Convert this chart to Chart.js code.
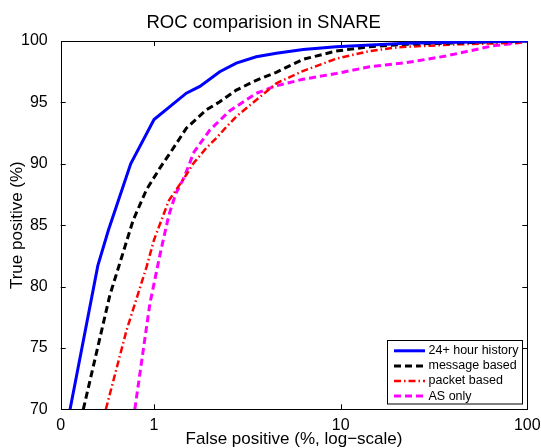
<!DOCTYPE html>
<html lang="en">
<head>
  <meta charset="UTF-8">
  <title>ROC comparision in SNARE</title>
  <script src="https://cdn.jsdelivr.net/npm/chart.js"></script>
  <style>
    body { margin: 0; background: #fff; }
  </style>
</head>
<body>
  <canvas id="rocChart" width="541" height="448"></canvas>
  <script>
    // values (false positive %, true positive %)
    const historyFp = [0.355, 0.5, 0.57, 0.75, 1.0, 1.49, 1.76, 2.25, 2.76, 3.53, 4.52, 6.3, 9.46, 22.4, 50, 100];
    const historyTp = [70, 81.7, 84.6, 90, 93.6, 95.75, 96.3, 97.5, 98.2, 98.72, 99.0, 99.3, 99.54, 99.81, 99.92, 100];

    const messageFp = [0.418, 0.58, 0.773, 0.912, 1.07, 1.26, 1.49, 1.91, 2.25, 2.76, 3.53, 4.52, 6.27, 9.46, 14.3, 22.4, 50, 100];
    const messageTp = [70, 79.3, 85.4, 87.9, 89.6, 91.2, 92.9, 94.4, 95.05, 96.0, 96.8, 97.45, 98.5, 99.18, 99.54, 99.73, 99.88, 100];

    const packetFp = [0.552, 0.713, 0.912, 1.0, 1.2, 1.49, 1.62, 1.91, 2.16, 2.44, 2.76, 3.53, 4.52, 6.27, 9.46, 14.3, 20.6, 43.2, 90, 100];
    const packetTp = [70, 76.45, 81.6, 83.8, 87.0, 89.1, 90.0, 91.3, 92.1, 93.0, 93.85, 95.2, 96.55, 97.55, 98.56, 99.18, 99.5, 99.73, 99.86, 100];

    const asFp = [0.789, 0.95, 1.08, 1.2, 1.31, 1.43, 1.55, 1.62, 1.99, 2.54, 3.53, 4.52, 6.27, 9.46, 14.3, 22.4, 36.7, 65, 90, 100];
    const asTp = [70, 78.6, 82.7, 85.8, 87.6, 88.7, 90.0, 90.85, 92.75, 94.3, 95.74, 96.35, 96.88, 97.35, 97.9, 98.23, 98.78, 99.6, 99.86, 100];

    const seriesNames = ['24+ hour history', 'message based', 'packet based', 'AS only'];

    // left edge of the log axis sits half a decade below 1 and is labelled "0"
    const xTickValues = [Math.pow(10, -0.5), 1, 10, 100];
    const xTickLabels = ['0', '1', '10', '100'];
    const yTickValues = [70, 75, 80, 85, 90, 95, 100];

    const toPoints = (xs, ys) => xs.map((x, i) => ({ x: x, y: ys[i] }));

    const data = {
      datasets: [
        {
          label: seriesNames[0],
          data: toPoints(historyFp, historyTp),
          borderColor: '#0000ff',
          borderWidth: 3,
          borderDash: [],
        },
        {
          label: seriesNames[1],
          data: toPoints(messageFp, messageTp),
          borderColor: '#000000',
          borderWidth: 3,
          borderDash: [7, 4],
        },
        {
          label: seriesNames[2],
          data: toPoints(packetFp, packetTp),
          borderColor: '#ff0000',
          borderWidth: 2.5,
          borderDash: [7, 3, 1.5, 3],
        },
        {
          label: seriesNames[3],
          data: toPoints(asFp, asTp),
          borderColor: '#ff00ff',
          borderWidth: 3,
          borderDash: [7, 4],
        },
      ],
    };

    // axes box with inward ticks on all four sides (matlab look)
    const boxPlugin = {
      id: 'boxPlugin',
      beforeDatasetsDraw(chart) {
        const { ctx, chartArea, scales } = chart;
        const { left, right, top, bottom } = chartArea;
        const tick = 5;
        ctx.save();
        ctx.strokeStyle = '#000';
        ctx.lineWidth = 1;
        ctx.beginPath();
        xTickValues.slice(1, -1).forEach(v => {
          const px = Math.round(scales.x.getPixelForValue(v)) + 0.5;
          ctx.moveTo(px, bottom); ctx.lineTo(px, bottom - tick);
          ctx.moveTo(px, top); ctx.lineTo(px, top + tick);
        });
        yTickValues.slice(1, -1).forEach(v => {
          const py = Math.round(scales.y.getPixelForValue(v)) + 0.5;
          ctx.moveTo(left, py); ctx.lineTo(left + tick, py);
          ctx.moveTo(right, py); ctx.lineTo(right - tick, py);
        });
        ctx.stroke();
        ctx.strokeRect(Math.round(left) + 0.5, Math.round(top) + 0.5,
          Math.round(right) - Math.round(left), Math.round(bottom) - Math.round(top));
        ctx.restore();
      },
    };

    // legend box in the lower right corner
    const legendPlugin = {
      id: 'legendPlugin',
      afterDraw(chart) {
        const { ctx } = chart;
        const boxL = 387.5, boxT = 340.5, boxW = 135, boxH = 63.5;
        ctx.save();
        ctx.fillStyle = '#fff';
        ctx.fillRect(boxL, boxT, boxW, boxH);
        ctx.strokeStyle = '#000';
        ctx.lineWidth = 1;
        ctx.strokeRect(boxL, boxT, boxW, boxH);
        ctx.font = '12.5px "Liberation Sans", Arial, sans-serif';
        ctx.textBaseline = 'middle';
        ctx.textAlign = 'left';
        chart.data.datasets.forEach((ds, i) => {
          const y = 350.8 + i * 15.1;
          ctx.beginPath();
          ctx.strokeStyle = ds.borderColor;
          ctx.lineWidth = ds.borderWidth;
          ctx.setLineDash(ds.borderDash);
          ctx.moveTo(394, y);
          ctx.lineTo(425, y);
          ctx.stroke();
          ctx.setLineDash([]);
          ctx.fillStyle = '#000';
          ctx.fillText(ds.label, 428.5, y);
        });
        ctx.restore();
      },
    };

    const font = { family: '"Liberation Sans", Arial, sans-serif' };

    const options = {
      responsive: false,
      animation: false,
      devicePixelRatio: 1,
      layout: { padding: { left: 0, right: 13.7, top: 0, bottom: 0 } },
      elements: {
        point: { radius: 0, hoverRadius: 0 },
        line: { tension: 0, borderCapStyle: 'butt', fill: false },
      },
      scales: {
        x: {
          type: 'logarithmic',
          bounds: 'data',
          min: xTickValues[0],
          max: 100,
          grid: { display: false },
          border: { display: false },
          afterBuildTicks: (scale) => {
            scale.ticks = xTickValues.map(v => ({ value: v }));
          },
          afterFit: (scale) => {
            scale.height = 38.7;
            scale.paddingLeft = 0;
            scale.paddingRight = 0;
          },
          ticks: {
            color: '#000',
            padding: -1,
            maxRotation: 0,
            autoSkip: false,
            font: { ...font, size: 16 },
            callback: (value, index) => xTickLabels[index],
          },
          title: {
            display: true,
            text: 'False positive (%, log\u2212scale)',
            color: '#000',
            font: { ...font, size: 17 },
            padding: { top: 0, bottom: -1.5 },
          },
        },
        y: {
          type: 'linear',
          min: 70,
          max: 100,
          grid: { display: false },
          border: { display: false },
          afterFit: (scale) => {
            scale.width = 60.7;
            scale.paddingTop = 0;
            scale.paddingBottom = 0;
          },
          ticks: {
            stepSize: 5,
            color: '#000',
            padding: 5,
            font: { ...font, size: 16 },
          },
          title: {
            display: true,
            text: 'True positive (%)',
            color: '#000',
            font: { ...font, size: 17 },
            padding: { top: 7.5, bottom: 0 },
          },
        },
      },
      plugins: {
        legend: { display: false },
        tooltip: { enabled: false },
        title: {
          display: true,
          text: 'ROC comparision in SNARE',
          color: '#000',
          font: { ...font, size: 18.5, weight: 'normal' },
          padding: { top: 11.5, bottom: 7.3 },
        },
      },
    };

    new Chart(document.getElementById('rocChart').getContext('2d'), {
      type: 'line',
      data: data,
      options: options,
      plugins: [boxPlugin, legendPlugin],
    });
  </script>
</body>
</html>
